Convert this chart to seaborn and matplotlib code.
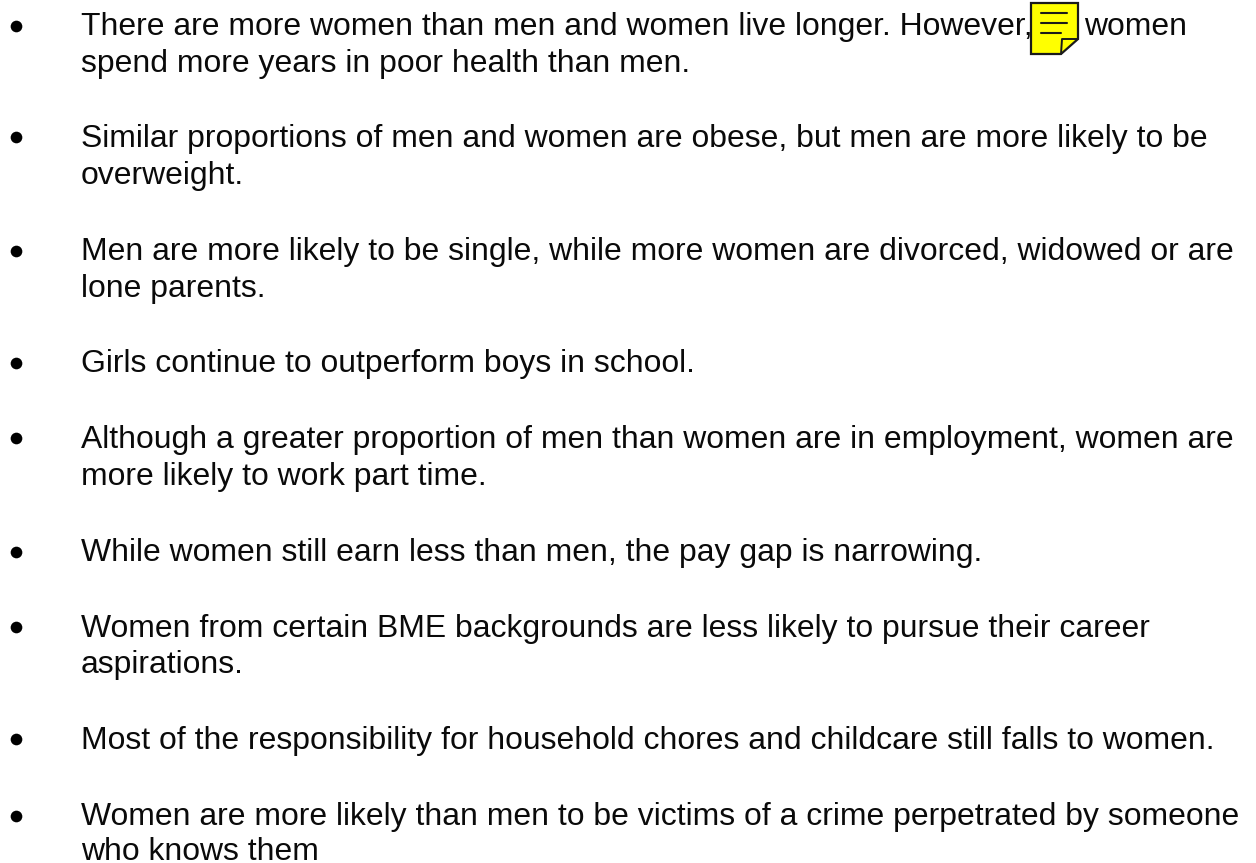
import matplotlib
matplotlib.use('Agg')
import matplotlib.pyplot as plt
import seaborn as sns

sns.set_theme(style='white')
plt.rcParams['font.family'] = ['Liberation Sans', 'DejaVu Sans']

# text lines of the slide, with the baseline height in pixels
lines = [
    'There are more women than men and women live longer. However,',
    'spend more years in poor health than men.',
    'Similar proportions of men and women are obese, but men are more likely to be',
    'overweight.',
    'Men are more likely to be single, while more women are divorced, widowed or are',
    'lone parents.',
    'Girls continue to outperform boys in school.',
    'Although a greater proportion of men than women are in employment, women are',
    'more likely to work part time.',
    'While women still earn less than men, the pay gap is narrowing.',
    'Women from certain BME backgrounds are less likely to pursue their career',
    'aspirations.',
    'Most of the responsibility for household chores and childcare still falls to women.',
    'Women are more likely than men to be victims of a crime perpetrated by someone',
    'who knows them',
]
line_y = [35, 72, 147, 184, 260, 297, 372, 448, 485, 561, 637, 673, 749, 825, 860]
bullet_y = [26, 137, 251, 363, 438, 552, 627, 739, 816]

W, H = 1256, 863
fig = plt.figure(figsize=(W / 100, H / 100), dpi=100)
ax = fig.add_axes([0, 0, 1, 1])
ax.set_xlim(0, W)
ax.set_ylim(H, 0)
ax.axis('off')

for txt, y in zip(lines, line_y):
    ax.text(81, y, txt, fontsize=22.95, color='#0a0a0a', va='baseline', ha='left')
ax.text(1084, 35, 'women', fontsize=22.95, color='#0a0a0a', va='baseline', ha='left')
for y in bullet_y:
    ax.plot([16], [y], marker='o', ms=8.4, mew=0, color='black')

# sticky note icon, it sits on top of the comma
note_x = [1031, 1078, 1078, 1061, 1031, 1031]
note_y = [3, 3, 39, 54, 54, 3]
ax.fill(note_x, note_y, facecolor='#ffff00', edgecolor='#1a1a1a', lw=1.6, zorder=5)
ax.plot([1061, 1062, 1078], [54, 39, 39], color='#1a1a1a', lw=1.4, zorder=6)
for y0, x0, x1 in [(13, 1041, 1067), (23, 1041, 1067), (33, 1041, 1061)]:
    ax.plot([x0, x1], [y0, y0], color='#1a1a1a', lw=1.5, zorder=6)

fig.savefig('out.png', dpi=100, facecolor='white')
